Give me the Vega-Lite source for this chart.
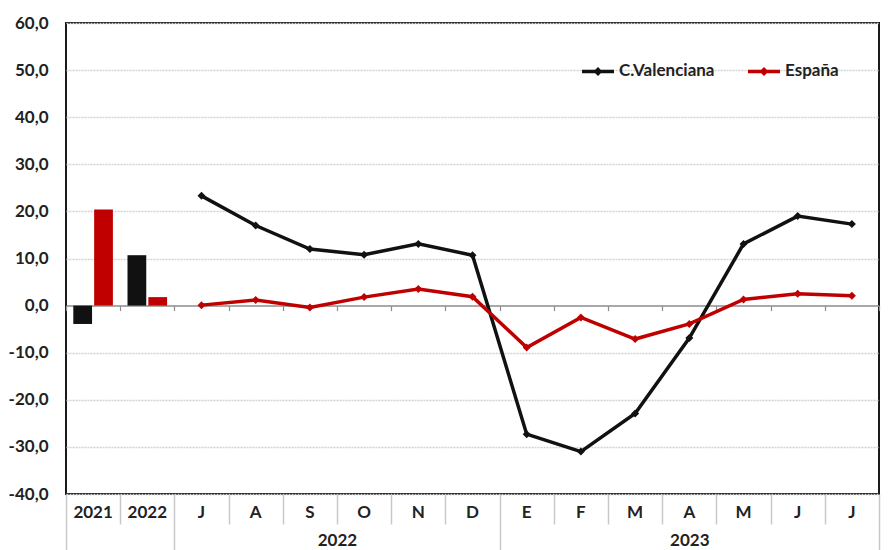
{
  "$schema": "https://vega.github.io/schema/vega-lite/v6.json",
  "width": 813,
  "height": 471,
  "autosize": "none",
  "padding": {"left": 66, "top": 23, "right": 9, "bottom": 56},
  "background": "white",
  "config": {
    "view": {"stroke": "#1a1a1a", "strokeWidth": 2},
    "font": "Lato"
  },
  "data": {
    "values": [
      {"k": "2021", "s": "C.Valenciana", "v": -3.9, "t": "a"},
      {"k": "2021", "s": "España", "v": 20.4, "t": "a"},
      {"k": "2022", "s": "C.Valenciana", "v": 10.7, "t": "a"},
      {"k": "2022", "s": "España", "v": 1.8, "t": "a"},
      {"k": "Jul22", "s": "C.Valenciana", "v": 23.3, "t": "m"},
      {"k": "Ago22", "s": "C.Valenciana", "v": 17.0, "t": "m"},
      {"k": "Sep22", "s": "C.Valenciana", "v": 12.0, "t": "m"},
      {"k": "Oct22", "s": "C.Valenciana", "v": 10.8, "t": "m"},
      {"k": "Nov22", "s": "C.Valenciana", "v": 13.1, "t": "m"},
      {"k": "Dic22", "s": "C.Valenciana", "v": 10.7, "t": "m"},
      {"k": "Ene23", "s": "C.Valenciana", "v": -27.3, "t": "m"},
      {"k": "Feb23", "s": "C.Valenciana", "v": -31.0, "t": "m"},
      {"k": "Mar23", "s": "C.Valenciana", "v": -22.9, "t": "m"},
      {"k": "Abr23", "s": "C.Valenciana", "v": -6.9, "t": "m"},
      {"k": "May23", "s": "C.Valenciana", "v": 13.1, "t": "m"},
      {"k": "Jun23", "s": "C.Valenciana", "v": 19.0, "t": "m"},
      {"k": "Jul23", "s": "C.Valenciana", "v": 17.3, "t": "m"},
      {"k": "Jul22", "s": "España", "v": 0.1, "t": "m"},
      {"k": "Ago22", "s": "España", "v": 1.2, "t": "m"},
      {"k": "Sep22", "s": "España", "v": -0.4, "t": "m"},
      {"k": "Oct22", "s": "España", "v": 1.8, "t": "m"},
      {"k": "Nov22", "s": "España", "v": 3.5, "t": "m"},
      {"k": "Dic22", "s": "España", "v": 1.9, "t": "m"},
      {"k": "Ene23", "s": "España", "v": -8.9, "t": "m"},
      {"k": "Feb23", "s": "España", "v": -2.5, "t": "m"},
      {"k": "Mar23", "s": "España", "v": -7.1, "t": "m"},
      {"k": "Abr23", "s": "España", "v": -3.9, "t": "m"},
      {"k": "May23", "s": "España", "v": 1.3, "t": "m"},
      {"k": "Jun23", "s": "España", "v": 2.5, "t": "m"},
      {"k": "Jul23", "s": "España", "v": 2.1, "t": "m"}
    ]
  },
  "encoding": {
    "y": {
      "field": "v",
      "type": "quantitative",
      "scale": {"domain": [-40, 60], "nice": false, "zero": false},
      "axis": {
        "title": null,
        "values": [-40, -30, -20, -10, 0, 10, 20, 30, 40, 50, 60],
        "labelExpr": "replace(replace(format(datum.value, '.1f'), '.', ','), '\u2212', '-')",
        "domain": false,
        "ticks": false,
        "tickSize": 0,
        "labelPadding": 18,
        "labelFont": "Lato",
        "labelFontWeight": "bold",
        "labelFontSize": 17,
        "labelColor": "#222222",
        "grid": true,
        "gridColor": "#d2d2d2",
        "gridDash": [2, 1],
        "gridWidth": 1.4,
        "gridOpacity": {"condition": {"test": "datum.value == 0", "value": 0}, "value": 1}
      }
    },
    "color": {
      "field": "s",
      "type": "nominal",
      "scale": {"domain": ["C.Valenciana", "España"], "range": ["#111111", "#c00000"]}
    }
  },
  "layer": [
    {
      "mark": {"type": "bar"},
      "transform": [{"filter": "datum.t == 'a'"}],
      "encoding": {
        "x": {
          "field": "k",
          "type": "nominal",
          "scale": {"domain": ["2021","2022","Jul22","Ago22","Sep22","Oct22","Nov22","Dic22","Ene23","Feb23","Mar23","Abr23","May23","Jun23","Jul23"], "paddingInner": 0, "paddingOuter": 0},
          "axis": {
            "orient": "bottom",
            "title": null,
            "domain": false,
            "ticks": false,
            "tickSize": 0,
            "grid": false,
            "labelAngle": 0,
            "labelOverlap": false,
            "labelExpr": "length(datum.value) == 4 ? datum.value : substring(datum.value, 0, 1)",
            "labelPadding": 10,
            "labelFont": "Lato",
            "labelFontWeight": "bold",
            "labelFontSize": 17,
            "labelColor": "#222222"
          }
        },
        "xOffset": {"field": "s", "type": "nominal", "scale": {"paddingInner": 0.1, "paddingOuter": 0.35}}
      }
    },
    {
      "mark": {"type": "line", "strokeWidth": 3.5},
      "transform": [{"filter": "datum.t == 'm'"}],
      "encoding": {
        "x": {
          "field": "k",
          "type": "nominal",
          "scale": {"domain": ["2021","2022","Jul22","Ago22","Sep22","Oct22","Nov22","Dic22","Ene23","Feb23","Mar23","Abr23","May23","Jun23","Jul23"], "paddingInner": 0, "paddingOuter": 0},
          "axis": {
            "orient": "bottom",
            "title": null,
            "domain": false,
            "grid": false,
            "ticks": true,
            "tickBand": "extent",
            "tickColor": "#c8c8c8",
            "tickWidth": 1.5,
            "tickSize": {"condition": {"test": "datum.value == '2022' || datum.value == 'Dic22' || datum.value == 'Jul23' || datum.extra", "value": 56}, "value": 30},
            "labelAngle": 0,
            "labelOverlap": false,
            "labelExpr": "datum.value == 'Sep22' ? '2022' : datum.value == 'Abr23' ? '2023' : ''",
            "labelOffset": {"condition": {"test": "datum.value == 'Sep22'", "value": 27}, "value": 0},
            "labelPadding": 8,
            "labelFont": "Lato",
            "labelFontWeight": "bold",
            "labelFontSize": 17,
            "labelColor": "#222222"
          }
        },
        "color": {
          "field": "s",
          "type": "nominal",
          "scale": {"domain": ["C.Valenciana", "España"], "range": ["#111111", "#c00000"]},
          "legend": {
            "orient": "none",
            "legendX": 514,
            "legendY": 30,
            "direction": "horizontal",
            "title": null,
            "symbolType": "M-1,0L1,0M0,-0.13L0.13,0L0,0.13L-0.13,0Z",
            "symbolSize": 1024,
            "symbolStrokeWidth": 3.5,
            "labelFont": "Lato",
            "labelFontWeight": "bold",
            "labelFontSize": 17,
            "labelColor": "#222222",
            "labelOffset": 3,
            "columnPadding": 26,
            "padding": 0,
            "encode": {
              "symbols": {
                "update": {
                  "fill": {"scale": "color", "field": "value"},
                  "stroke": {"scale": "color", "field": "value"},
                  "strokeWidth": {"value": 3.5},
                  "opacity": {"value": 1}
                }
              }
            }
          }
        }
      }
    },
    {
      "mark": {"type": "point", "shape": "diamond", "filled": true, "size": 64, "opacity": 1},
      "transform": [{"filter": "datum.t == 'm'"}],
      "encoding": {
        "x": {
          "field": "k",
          "type": "nominal",
          "scale": {"domain": ["2021","2022","Jul22","Ago22","Sep22","Oct22","Nov22","Dic22","Ene23","Feb23","Mar23","Abr23","May23","Jun23","Jul23"], "paddingInner": 0, "paddingOuter": 0},
          "axis": {
            "orient": "bottom",
            "offset": -188.4,
            "title": null,
            "labels": false,
            "grid": false,
            "domain": true,
            "domainColor": "#8c8c8c",
            "domainWidth": 1.5,
            "ticks": true,
            "tickBand": "extent",
            "tickColor": "#8c8c8c",
            "tickWidth": 1.2,
            "tickSize": 5
          }
        }
      }
    }
  ],
  "resolve": {"axis": {"x": "independent"}}
}
